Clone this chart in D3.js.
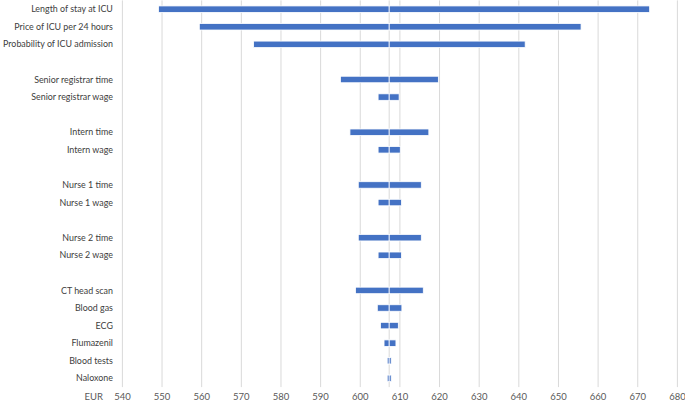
<!DOCTYPE html>
<html>
  <head>
    <meta charset="UTF-8" />
    <script src="https://d3js.org/d3.v7.min.js"></script>
    <style>
      body { margin: 0; background: #fff; }
      text { font-family: Lato, "Open Sans", sans-serif; }
    </style>
  </head>
  <body>
    <div id="chart"></div>
    <script>
      // tornado chart data ("" = spacer row)
      var labels = [
        "Length of stay at ICU", "Price of ICU per 24 hours", "Probability of ICU admission", "",
        "Senior registrar time", "Senior registrar wage", "",
        "Intern time", "Intern wage", "",
        "Nurse 1 time", "Nurse 1 wage", "",
        "Nurse 2 time", "Nurse 2 wage", "",
        "CT head scan", "Blood gas", "ECG", "Flumazenil", "Blood tests", "Naloxone"
      ]
      var lowValues = [
        549.1, 559.4, 573.1, null,
        595.0, 604.5, null,
        597.4, 604.5, null,
        599.5, 604.5, null,
        599.5, 604.5, null,
        598.8, 604.3, 605.1, 606.0, 606.8, 606.8
      ]
      var highValues = [
        673.0, 655.7, 641.6, null,
        619.7, 609.8, null,
        617.3, 610.1, null,
        615.4, 610.4, null,
        615.4, 610.4, null,
        615.9, 610.5, 609.6, 609.0, 607.8, 607.8
      ]
      var baseValue = 607.3
      var xTicks = [540, 550, 560, 570, 580, 590, 600, 610, 620, 630, 640, 650, 660, 670, 680]

      var width = 685, height = 406
      var margin = {top: 0.4, right: 7.6, bottom: 18.9, left: 122.4}

      var svg = d3.select("#chart").append("svg")
        .attr("width", width)
        .attr("height", height)

      var x = d3.scaleLinear()
        .domain([540, 680])
        .range([margin.left, width - margin.right])

      var y = d3.scaleBand()
        .domain(d3.range(labels.length))
        .range([margin.top, height - margin.bottom])

      // gridlines
      svg.append("g")
        .selectAll("line")
        .data(xTicks)
        .enter().append("line")
        .attr("x1", function(d) { return x(d) })
        .attr("x2", function(d) { return x(d) })
        .attr("y1", margin.top)
        .attr("y2", height - margin.bottom)
        .attr("stroke", "#d9d9d9")
        .attr("stroke-width", 1)

      // axis line at base case
      svg.append("line")
        .attr("x1", x(baseValue))
        .attr("x2", x(baseValue))
        .attr("y1", margin.top)
        .attr("y2", height - margin.bottom)
        .attr("stroke", "#d9d9d9")
        .attr("stroke-width", 1)

      var rows = labels.map(function(d, i) {
        return {i: i, label: d, low: lowValues[i], high: highValues[i]}
      }).filter(function(d) { return d.low != null })

      var barH = 6.5

      function drawBars(getFrom, getTo) {
        svg.append("g")
          .selectAll("rect")
          .data(rows)
          .enter().append("rect")
          .attr("x", function(d) { return x(Math.min(getFrom(d), getTo(d))) })
          .attr("width", function(d) { return Math.abs(x(getTo(d)) - x(getFrom(d))) })
          .attr("y", function(d) { return y(d.i) + y.bandwidth() / 2 - barH / 2 })
          .attr("height", barH)
          .attr("fill", "#4472c4")
          .attr("stroke", "#fff")
          .attr("stroke-width", 0.8)
      }
      drawBars(function(d) { return d.low }, function() { return baseValue })
      drawBars(function() { return baseValue }, function(d) { return d.high })

      // category labels
      svg.append("g")
        .selectAll("text")
        .data(labels)
        .enter().append("text")
        .attr("x", margin.left - 9.5)
        .attr("y", function(d, i) { return y(i) + y.bandwidth() / 2 })
        .attr("dy", "0.35em")
        .attr("text-anchor", "end")
        .attr("font-size", "8.9px")
        .attr("fill", "#404040")
        .text(function(d) { return d })

      // x tick labels
      svg.append("g")
        .selectAll("text")
        .data(xTicks)
        .enter().append("text")
        .attr("x", function(d) { return x(d) })
        .attr("y", 397)
        .attr("dy", "0.35em")
        .attr("text-anchor", "middle")
        .attr("font-size", "9.5px")
        .attr("fill", "#595959")
        .text(function(d) { return d })

      svg.append("text")
        .attr("x", 103)
        .attr("y", 397)
        .attr("dy", "0.35em")
        .attr("text-anchor", "end")
        .attr("font-size", "9.5px")
        .attr("fill", "#595959")
        .text("EUR")
    </script>
  </body>
</html>
